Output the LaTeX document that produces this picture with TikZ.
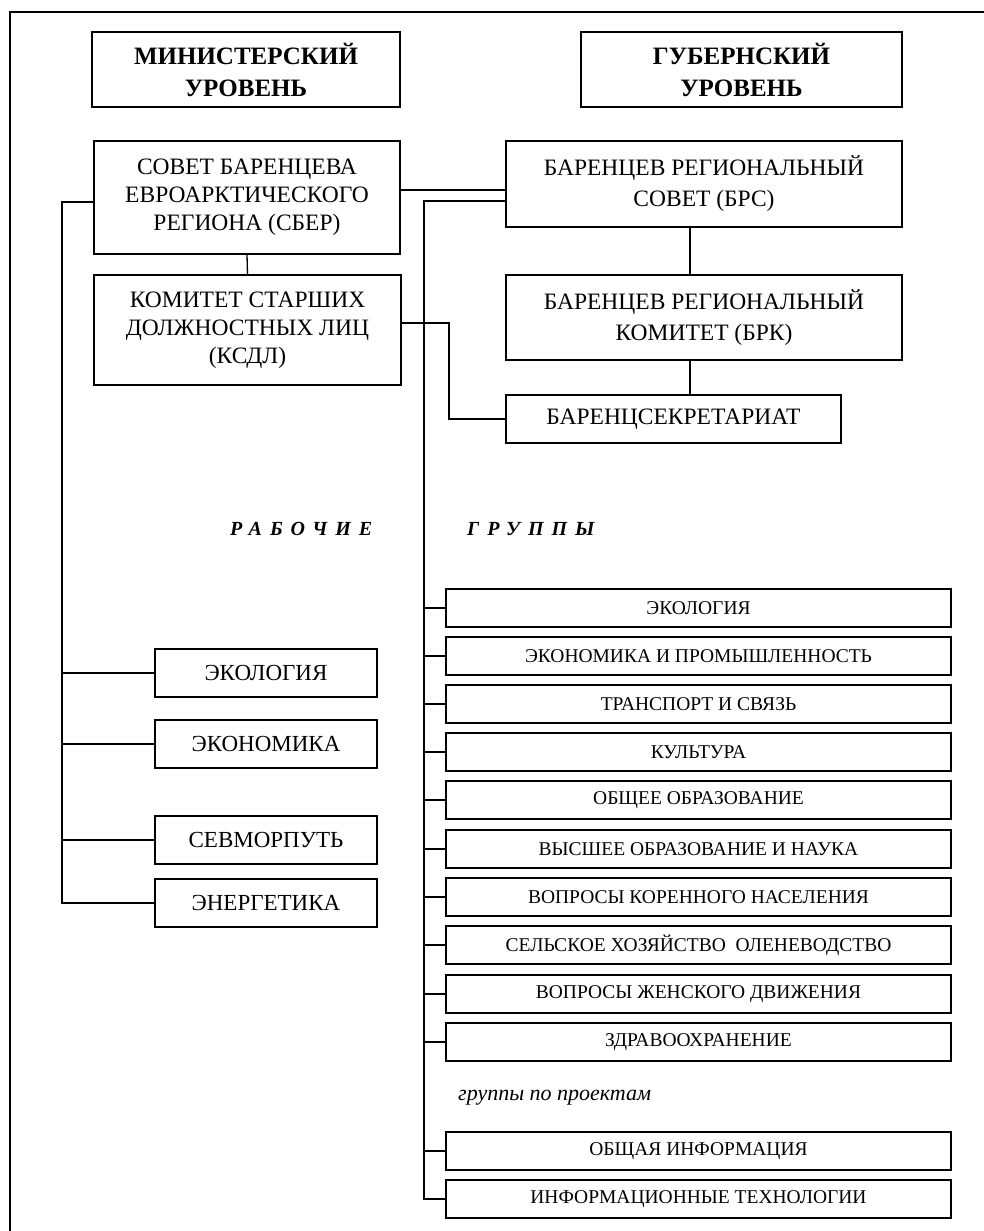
\documentclass[tikz,border=0pt]{standalone}
\usepackage{fontspec}
\setmainfont{Liberation Serif}
\begin{document}
\begin{tikzpicture}[x=1pt,y=-1pt,
  box/.style={draw,line width=1.4pt,inner sep=0pt,align=center,anchor=center},
  bigbox/.style={box,font=\fontsize{23.5}{28}\selectfont},
  widebox/.style={box,font=\fontsize{23.5}{31}\selectfont},
  headbox/.style={box,font=\fontsize{25}{32}\selectfont\bfseries},
  lgbox/.style={box,minimum width=222pt,minimum height=48pt,font=\fontsize{23}{28}\selectfont},
  rgbox/.style={box,minimum width=505pt,minimum height=38pt,font=\fontsize{19.5}{24}\selectfont},
  conn/.style={line width=1.3pt}]
\useasboundingbox (0,0) rectangle (984,1231);
% frame
\draw[conn] (984,12) -- (10,12) -- (10,1231);
% headers
\node[headbox,minimum width=308pt,minimum height=75pt] (min) at (246,69.5) {МИНИСТЕРСКИЙ\\УРОВЕНЬ};
\node[headbox,minimum width=321pt,minimum height=75pt] (gub) at (741.5,69.5) {ГУБЕРНСКИЙ\\УРОВЕНЬ};
% main boxes
\node[bigbox,minimum width=306pt,minimum height=113pt] (sber) at (247,197.5) {СОВЕТ БАРЕНЦЕВА\\ЕВРОАРКТИЧЕСКОГО\\РЕГИОНА (СБЕР)};
\node[widebox,minimum width=396pt,minimum height=86pt] (brs) at (704,184) {БАРЕНЦЕВ РЕГИОНАЛЬНЫЙ\\СОВЕТ (БРС)};
\node[bigbox,minimum width=307pt,minimum height=110pt] (ksdl) at (247.5,330) {КОМИТЕТ СТАРШИХ\\ДОЛЖНОСТНЫХ ЛИЦ\\(КСДЛ)};
\node[widebox,minimum width=396pt,minimum height=85pt] (brk) at (704,317.5) {БАРЕНЦЕВ РЕГИОНАЛЬНЫЙ\\КОМИТЕТ (БРК)};
\node[bigbox,minimum width=335pt,minimum height=48pt] (sec) at (673.5,419) {БАРЕНЦСЕКРЕТАРИАТ};
% title
\node[anchor=base west,inner sep=0pt,font=\fontsize{20}{24}\selectfont\bfseries\itshape\addfontfeatures{LetterSpace=40}] (rab) at (230,535) {РАБОЧИЕ};
\node[anchor=base west,inner sep=0pt,font=\fontsize{20}{24}\selectfont\bfseries\itshape\addfontfeatures{LetterSpace=40}] (grp) at (467,535) {ГРУППЫ};
% left groups
\node[lgbox] (leco) at (266,673) {ЭКОЛОГИЯ};
\node[lgbox] (lecon) at (266,744) {ЭКОНОМИКА};
\node[lgbox] (lsev) at (266,840) {СЕВМОРПУТЬ};
\node[lgbox] (leng) at (266,903) {ЭНЕРГЕТИКА};
% right groups
\node[rgbox] (r1) at (698.5,608) {ЭКОЛОГИЯ};
\node[rgbox] (r2) at (698.5,656) {ЭКОНОМИКА И ПРОМЫШЛЕННОСТЬ};
\node[rgbox] (r3) at (698.5,704) {ТРАНСПОРТ И СВЯЗЬ};
\node[rgbox] (r4) at (698.5,752) {КУЛЬТУРА};
\node[rgbox] (r5) at (698.5,800) {ОБЩЕЕ ОБРАЗОВАНИЕ};
\node[rgbox] (r6) at (698.5,849) {ВЫСШЕЕ ОБРАЗОВАНИЕ И НАУКА};
\node[rgbox] (r7) at (698.5,897) {ВОПРОСЫ КОРЕННОГО НАСЕЛЕНИЯ};
\node[rgbox] (r8) at (698.5,945) {СЕЛЬСКОЕ ХОЗЯЙСТВО\ \ ОЛЕНЕВОДСТВО};
\node[rgbox] (r9) at (698.5,994) {ВОПРОСЫ ЖЕНСКОГО ДВИЖЕНИЯ};
\node[rgbox] (r10) at (698.5,1042) {ЗДРАВООХРАНЕНИЕ};
\node[anchor=base west,inner sep=0pt,font=\fontsize{22}{26}\selectfont\itshape] (proj) at (458,1100) {группы по проектам};
\node[rgbox] (r11) at (698.5,1151) {ОБЩАЯ ИНФОРМАЦИЯ};
\node[rgbox] (r12) at (698.5,1199) {ИНФОРМАЦИОННЫЕ ТЕХНОЛОГИИ};
% connectors
\coordinate (lt) at (62,0);
\coordinate (rt) at (424,0);
\coordinate (kc) at (449,0);
\coordinate (vx) at (690,0);
\draw[conn] (sber.east |- 0,190) -- (brs.west |- 0,190);
\draw[conn] (sber.south) -- (ksdl.north);
\draw[conn] (brs.south -| vx) -- (brk.north -| vx);
\draw[conn] (brk.south -| vx) -- (sec.north -| vx);
\draw[conn] (ksdl.east |- 0,323) -- (kc |- 0,323) |- (sec.west);
\draw[conn] (sber.west |- 0,202) -- (lt |- 0,202) |- (leng.west);
\foreach \n in {leco,lecon,lsev} \draw[conn] (lt |- \n.west) -- (\n.west);
\draw[conn] (brs.west |- 0,201) -- (rt |- 0,201) |- (r12.west);
\foreach \n in {r1,r2,r3,r4,r5,r6,r7,r8,r9,r10,r11} \draw[conn] (rt |- \n.west) -- (\n.west);
\end{tikzpicture}
\end{document}
